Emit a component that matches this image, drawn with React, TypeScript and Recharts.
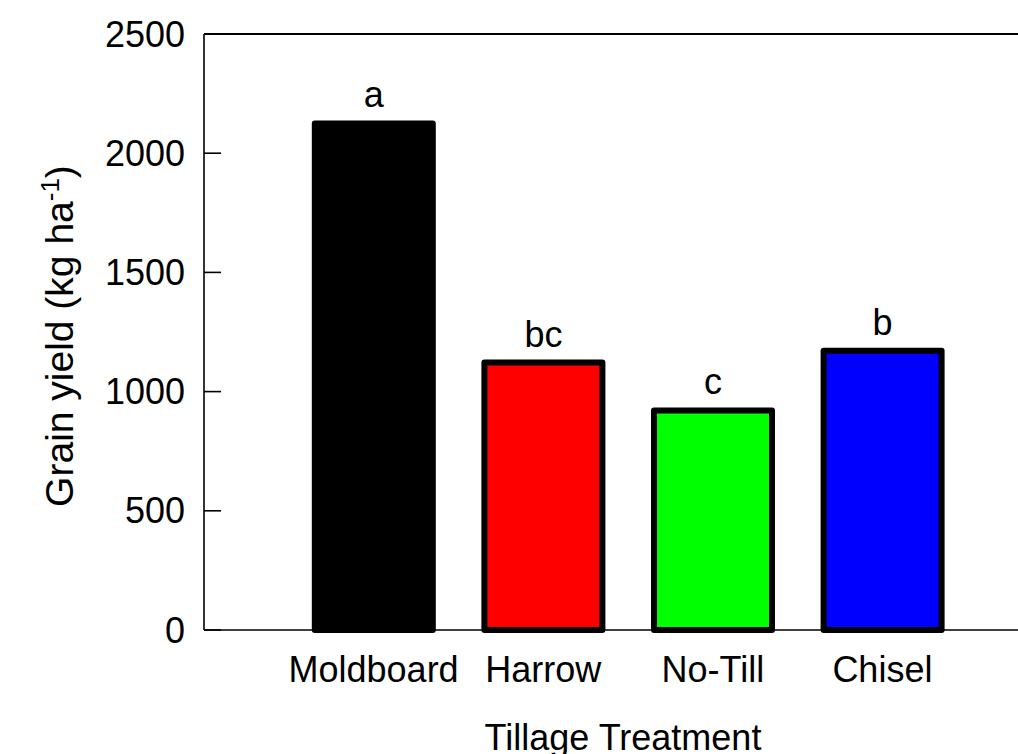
import React from "react";
import { BarChart, Bar, XAxis, YAxis, Cell, LabelList, ReferenceLine } from "recharts";

const categories = ["Moldboard", "Harrow", "No-Till", "Chisel"];
const yields = [2125, 1122, 921, 1171];
const letters = ["a", "bc", "c", "b"];
const colors = ["#000000", "#ff0000", "#00ff00", "#0000ff"];
const yTicks = [0, 500, 1000, 1500, 2000, 2500];
const xTicks = [1, 2, 3, 4];

const data = categories.map((c, i) => ({ pos: i + 1, name: c, value: yields[i], letter: letters[i] }));

const FONT = "'Liberation Sans', Arial, Helvetica, sans-serif";

const YTick = (props: any) => {
  const { x, y, payload } = props;
  return (
    <g>
      <line x1={x + 19} x2={x + 36} y1={y} y2={y} stroke="#000" strokeWidth={1.6} />
      <text x={x} y={y} dy="0.35em" textAnchor="end" fontSize={36} fontFamily={FONT} fill="#000">
        {payload.value}
      </text>
    </g>
  );
};

const XTick = (props: any) => {
  const { x, y, payload } = props;
  const name = categories[payload.value - 1] ?? "";
  return (
    <text x={x} y={y + 52} textAnchor="middle" fontSize={36} fontFamily={FONT} fill="#000">
      {name}
    </text>
  );
};

const LetterLabel = (props: any) => {
  const { x, y, width, value } = props;
  return (
    <text x={x + width / 2} y={y - 16} textAnchor="middle" fontSize={36} fontFamily={FONT} fill="#000">
      {value}
    </text>
  );
};

export default function App() {
  return (
    <div style={{ position: "absolute", left: 0, top: 0, width: 1018, height: 754, overflow: "hidden", background: "#fff" }}>
      <BarChart
        width={1100}
        height={754}
        data={data}
        margin={{ top: 34, right: 48, left: 0, bottom: 0 }}
      >
        <XAxis
          dataKey="pos"
          type="number"
          domain={[0, 5]}
          ticks={xTicks}
          allowDataOverflow
          height={124}
          tickLine={false}
          tickSize={0}
          tickMargin={0}
          axisLine={{ stroke: "#000", strokeWidth: 1.6 }}
          tick={<XTick />}
          interval={0}
          label={{
            content: () => (
              <text x={623} y={750} textAnchor="middle" fontSize={36} fontFamily={FONT} fill="#000">
                Tillage Treatment
              </text>
            ),
          }}
        />
        <YAxis
          type="number"
          domain={[0, 2500]}
          ticks={yTicks}
          width={204}
          tickLine={false}
          tickSize={0}
          tickMargin={19}
          axisLine={{ stroke: "#000", strokeWidth: 1.6 }}
          tick={<YTick />}
          interval={0}
          label={{
            content: () => (
              <text
                x={73}
                y={336}
                transform="rotate(-90 73 336)"
                textAnchor="middle"
                fontSize={39}
                fontFamily={FONT}
                fill="#000"
              >
                Grain yield (kg ha
                <tspan dy={-14} fontSize={26}>-1</tspan>
                <tspan dy={14}>)</tspan>
              </text>
            ),
          }}
        />
        <ReferenceLine y={2500} stroke="#000" strokeWidth={2} />
        <Bar dataKey="value" barSize={118} stroke="#000" strokeWidth={6} strokeLinejoin="round" isAnimationActive={false}>
          {data.map((d, i) => (
            <Cell key={d.name} fill={colors[i]} />
          ))}
          <LabelList dataKey="letter" content={<LetterLabel />} />
        </Bar>
      </BarChart>
    </div>
  );
}
